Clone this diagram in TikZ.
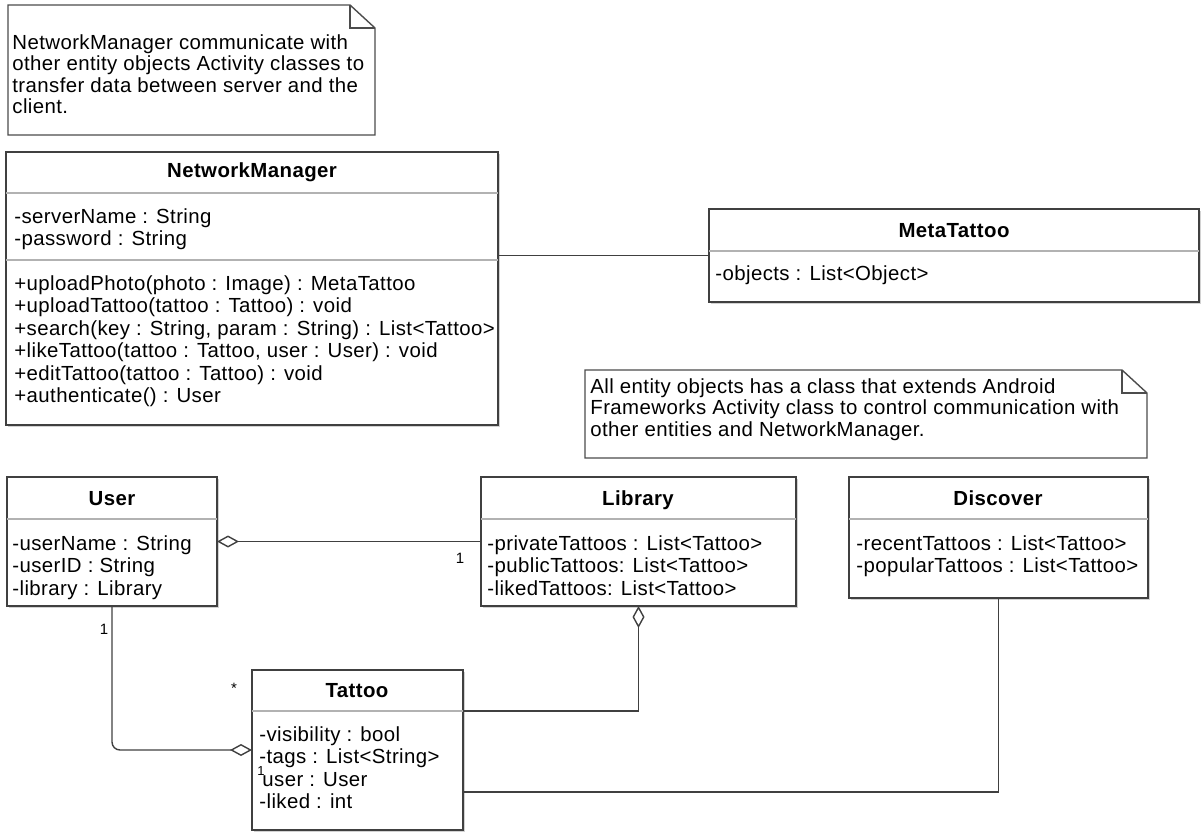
\documentclass[tikz,border=0pt]{standalone}
\usepackage{fontspec}
\setmainfont{Liberation Sans}[LetterSpace=2]
\usetikzlibrary{arrows.meta,shadows}

\tikzset{
  box/.style={draw=black!75, line width=0.75pt, fill=white, inner sep=0pt, outer sep=0pt, anchor=north west,
    drop shadow={shadow xshift=1.2pt, shadow yshift=-1.2pt, fill=black!35}},
  notebox/.style={inner sep=0pt, outer sep=0pt, anchor=north west},
  noteline/.style={draw=black!70, line width=0.7pt},
  title/.style={font=\fontsize{10.2}{11.25}\selectfont\bfseries, anchor=base, inner sep=0pt},
  attr/.style={font=\fontsize{10.2}{11.25}\selectfont, align=left, anchor=north west, inner sep=0pt},
  notetext/.style={font=\fontsize{10.2}{10.75}\selectfont, align=left, anchor=north west, inner sep=0pt},
  sep/.style={draw=black!30, line width=0.6pt},
  link/.style={draw=black!75, line width=0.7pt},
  aggr/.style={link, {Diamond[open,length=11pt,width=6pt]}-},
  mult/.style={font=\fontsize{7.5}{9}\selectfont, inner sep=0pt},
}

\begin{document}
\begin{tikzpicture}[x=0.5pt, y=-0.5pt]
\useasboundingbox (0,0) rectangle (1201,835);

% notes
\node[notebox, minimum width=183.5pt, minimum height=65pt] (note1) at (8,5) {};
\draw[noteline] (note1.north west) -- ([xshift=-12.5pt]note1.north east) -- ([yshift=-11.5pt]note1.north east) -- (note1.south east) -- (note1.south west) -- cycle;
\draw[noteline] ([xshift=-12.5pt]note1.north east) |- ([yshift=-11.5pt]note1.north east);
\node[notetext] (txt1) at (12,34) {\strut NetworkManager communicate with\\other entity objects Activity classes to\\transfer data between server and the\\client.};

\node[notebox, minimum width=281pt, minimum height=44pt] (note2) at (585,370) {};
\draw[noteline] (note2.north west) -- ([xshift=-12.5pt]note2.north east) -- ([yshift=-11.5pt]note2.north east) -- (note2.south east) -- (note2.south west) -- cycle;
\draw[noteline] ([xshift=-12.5pt]note2.north east) |- ([yshift=-11.5pt]note2.north east);
\node[notetext] (txt2) at (590,378) {\strut All entity objects has a class that extends Android\\Frameworks Activity class to control communication with\\other entities and NetworkManager.};

% classes
\node[box, minimum width=246pt, minimum height=136.5pt] (nm) at (6,152) {};
\draw[sep] (nm.west |- 0,193) -- (nm.east |- 0,193);
\draw[sep] (nm.west |- 0,260) -- (nm.east |- 0,260);
\node[title] (nmt) at (252,177) {NetworkManager};
\node[attr] (nma) at (14,207) {\strut-serverName : String\\-password : String};
\node[attr] (nmo) at (14,274) {\strut+uploadPhoto(photo : Image) : MetaTattoo\\+uploadTattoo(tattoo : Tattoo) : void\\+search(key : String, param : String) : List<Tattoo>\\+likeTattoo(tattoo : Tattoo, user : User) : void\\+editTattoo(tattoo : Tattoo) : void\\+authenticate() : User};

\node[box, minimum width=245pt, minimum height=46.5pt] (meta) at (709,209) {};
\draw[sep] (meta.west |- 0,251) -- (meta.east |- 0,251);
\node[title] (metat) at (954,237) {MetaTattoo};
\node[attr] (metaa) at (715,264) {\strut-objects : List<Object>};

\node[box, minimum width=105pt, minimum height=64.5pt] (user) at (7,477) {};
\draw[sep] (user.west |- 0,519) -- (user.east |- 0,519);
\node[title] (usert) at (112,505) {User};
\node[attr] (usera) at (12,534) {\strut-userName : String\\-userID : String\\-library : Library};

\node[box, minimum width=157.5pt, minimum height=64.5pt] (lib) at (481,477) {};
\draw[sep] (lib.west |- 0,519) -- (lib.east |- 0,519);
\node[title] (libt) at (638,505) {Library};
\node[attr] (liba) at (487,534) {\strut-privateTattoos : List<Tattoo>\\-publicTattoos: List<Tattoo>\\-likedTattoos: List<Tattoo>};

\node[box, minimum width=149.5pt, minimum height=60.5pt] (disc) at (849,477) {};
\draw[sep] (disc.west |- 0,519) -- (disc.east |- 0,519);
\node[title] (disct) at (998,505) {Discover};
\node[attr] (disca) at (856,534) {\strut-recentTattoos : List<Tattoo>\\-popularTattoos : List<Tattoo>};

\node[box, minimum width=105.5pt, minimum height=80pt] (tat) at (252,670) {};
\draw[sep] (tat.west |- 0,711) -- (tat.east |- 0,711);
\node[title] (tatt) at (357,697) {Tattoo};
\node[attr] (tata) at (259,725) {\strut-visibility : bool\\-tags : List<String>\\\hspace{1.5pt}user : User\\-liked : int};

% connectors
\draw[link] (meta.west) -- (meta.west -| nm.east);
\draw[aggr] (user.east) -- (user.east -| lib.west);
\draw[aggr, rounded corners=4pt] (tat.west) -| (user.south);
\draw[aggr] (lib.south) |- ([yshift=-20.5pt]tat.north east);
\draw[link] (disc.south) |- ([yshift=-61pt]tat.north east);

% multiplicities
\node[mult] (m1) at (460,558) {1};
\node[mult] (m2) at (104,629) {1};
\node[mult] (m3) at (234,688) {*};
\node[mult, font=\fontsize{6.5}{8}\selectfont] (m4) at (261,771) {1};
\end{tikzpicture}
\end{document}
